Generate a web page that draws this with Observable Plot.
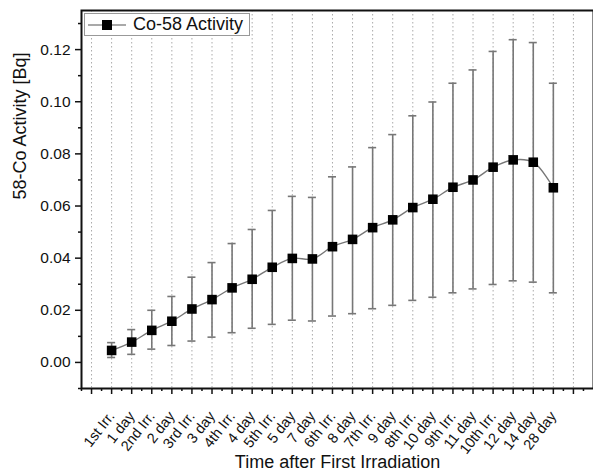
<!DOCTYPE html>
<html>
<head>
<meta charset="utf-8">
<script src="https://cdn.jsdelivr.net/npm/d3@7"></script>
<script src="https://cdn.jsdelivr.net/npm/@observablehq/plot@0.6"></script>
<style>
  html, body { margin: 0; padding: 0; background: #fff; }
  #wrap { position: relative; width: 593px; height: 470px; font-family: "Liberation Sans", Arial, sans-serif; }
  #legend { position: absolute; left: 84px; top: 13px; width: 166px; height: 23px; border: 1px solid #999; background: #fff; display: flex; align-items: center; box-sizing: border-box; }
  #legend span { font-size: 18px; color: #111; margin-left: 4px; }
</style>
</head>
<body>
<div id="wrap"></div>
<script>
const categories = ["1st Irr.","1 day","2nd Irr.","2 day","3rd Irr.","3 day","4th Irr.","4 day","5th Irr.","5 day","7 day","6th Irr.","8 day","7th Irr.","9 day","8th Irr.","10 day","9th Irr.","11 day","10th Irr.","12 day","14 day","28 day"];
const activity = [0.0046,0.0078,0.0123,0.0158,0.0205,0.0241,0.0286,0.0319,0.0365,0.0399,0.0397,0.0444,0.0472,0.0517,0.0547,0.0594,0.0626,0.0672,0.0700,0.0749,0.0777,0.0768,0.0670];
const errUpper = [0.0076,0.0126,0.0200,0.0253,0.0327,0.0383,0.0456,0.0510,0.0583,0.0637,0.0633,0.0712,0.0750,0.0824,0.0874,0.0946,0.0999,0.1071,0.1122,0.1193,0.1238,0.1227,0.1071];
const errLower = [0.0019,0.0031,0.0051,0.0065,0.0082,0.0097,0.0114,0.0131,0.0146,0.0162,0.0159,0.0178,0.0187,0.0206,0.0219,0.0238,0.0250,0.0267,0.0282,0.0299,0.0313,0.0308,0.0267];
const yTicks = [0, 0.02, 0.04, 0.06, 0.08, 0.10, 0.12];
const yMinorTicks = [-0.01, 0.01, 0.03, 0.05, 0.07, 0.09, 0.11, 0.13];
const xTicks = d3.range(0, 25);
const xMinorTicks = d3.range(-0.5, 25, 1);
const seriesName = "Co-58 Activity";
const xTitle = "Time after First Irradiation";
const yTitle = "58-Co Activity [Bq]";

const data = categories.map((c, k) => ({i: k + 1, cat: c, v: activity[k], lo: errLower[k], hi: errUpper[k]}));
const capW = 0.2;

const chart = Plot.plot({
  width: 593,
  height: 470,
  marginLeft: 81,
  marginTop: 10,
  marginBottom: 82,
  marginRight: 0,
  style: {fontFamily: "'Liberation Sans', Arial, sans-serif", background: "#fff", color: "#111"},
  x: {domain: [-0.5, 25], label: null},
  y: {domain: [-0.01, 0.135], label: null},
  marks: [
    Plot.gridX(xTicks, {stroke: "#aaa", strokeOpacity: 1, strokeDasharray: "1.5,2.5", strokeWidth: 1}),
    Plot.axisX(xMinorTicks, {tickSize: 3, tickFormat: () => "", strokeWidth: 1.5, stroke: "#111", label: null}),
    Plot.axisX(xTicks, {tickSize: 6, tickPadding: 19, strokeWidth: 1.5, stroke: "#111",
      tickFormat: i => categories[i - 1] ?? "", tickRotate: -52, fontSize: 14.5, label: null}),
    Plot.axisY(yMinorTicks, {tickSize: 3, tickFormat: () => "", strokeWidth: 1.5, stroke: "#111", label: null}),
    Plot.axisY(yTicks, {tickSize: 6, tickPadding: 5, strokeWidth: 1.5, stroke: "#111",
      tickFormat: d3.format(".2f"), fontSize: 15.5, label: null}),
    Plot.ruleX(data, {x: "i", y1: "lo", y2: "hi", stroke: "#777", strokeWidth: 1.6}),
    Plot.ruleY(data, {y: "hi", x1: d => d.i - capW, x2: d => d.i + capW, stroke: "#777", strokeWidth: 1.6}),
    Plot.ruleY(data, {y: "lo", x1: d => d.i - capW, x2: d => d.i + capW, stroke: "#777", strokeWidth: 1.6}),
    Plot.line(data, {x: "i", y: "v", stroke: "#777", strokeWidth: 1.4, curve: "catmull-rom"}),
    Plot.dot(data, {x: "i", y: "v", symbol: "square", r: 5.4, fill: "#000", stroke: "none"}),
    Plot.frame({stroke: "#111", strokeWidth: 2}),
    Plot.text([xTitle], {frameAnchor: "bottom", dy: 79, fontSize: 18, fill: "#111", lineAnchor: "bottom"}),
    Plot.text([yTitle], {frameAnchor: "left", dx: -61, rotate: -90, fontSize: 18, fill: "#111"})
  ]
});

const wrap = document.getElementById("wrap");
wrap.appendChild(chart);
const legend = document.createElement("div");
legend.id = "legend";
legend.innerHTML = `<svg width="44" height="20"><line x1="3" y1="10" x2="41" y2="10" stroke="#555" stroke-width="1.2"/><rect x="17" y="5" width="10" height="10" fill="#000"/></svg><span></span>`;
legend.querySelector("span").textContent = seriesName;
wrap.appendChild(legend);
</script>
</body>
</html>
